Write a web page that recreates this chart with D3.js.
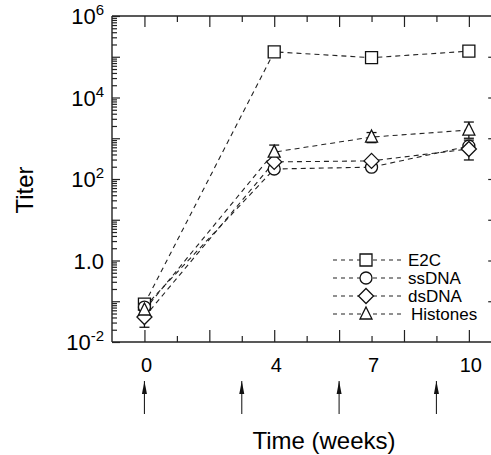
<!DOCTYPE html>
<html>
<head>
<meta charset="utf-8">
<script src="https://cdn.jsdelivr.net/npm/d3@7"></script>
<style>
  body { margin: 0; background: #fff; }
  svg { display: block; font-family: "Liberation Sans", Arial, sans-serif; }
  .tick line { stroke: #222; stroke-width: 1.2; }
</style>
</head>
<body>
<div id="chart"></div>
<script>
// data
var weeks = [0, 4, 7, 10];
var seriesNames = ["E2C", "ssDNA", "dsDNA", "Histones"];
var e2c = [0.085, 132000, 95000, 137000];
var ssdna = [0.072, 176, 195, 640];
var dsdna = [0.041, 263, 278, 546];
var histones = [0.061, 457, 1070, 1590];
// error bars [low, high], null where none is drawn
var ssdnaErr = [null, null, null, null];
var dsdnaErr = [[0.023, 0.07], null, null, [293, 900]];
var histonesErr = [null, [300, 680], [780, 1380], [1000, 2500]];
var e2cErr = [null, null, null, null];
var immunizations = [0, 3, 6, 9];
var xLabels = [0, 4, 7, 10];
var yLabels = [1e-2, 1, 1e2, 1e4, 1e6];

var svgWidth = 491, svgHeight = 455;
var margin = {top: 16, left: 112, bottom: 113};
var plotRight = 493.2;

var svg = d3.select("#chart").append("svg")
  .attr("width", svgWidth)
  .attr("height", svgHeight);

var x = d3.scaleLinear().domain([-1, 10.75]).range([margin.left, plotRight]);
var y = d3.scaleLog().domain([1e-2, 1e6]).range([svgHeight - margin.bottom, margin.top]);

var bottomY = y(1e-2), topY = y(1e6);

// frame lines
svg.append("line").attr("x1", margin.left).attr("x2", plotRight)
  .attr("y1", bottomY).attr("y2", bottomY).attr("stroke", "#222").attr("stroke-width", 1.4);
svg.append("line").attr("x1", margin.left).attr("x2", plotRight)
  .attr("y1", topY).attr("y2", topY).attr("stroke", "#222").attr("stroke-width", 1.4);
svg.append("line").attr("x1", margin.left).attr("x2", margin.left)
  .attr("y1", topY).attr("y2", bottomY).attr("stroke", "#222").attr("stroke-width", 1.4);

// x ticks, even weeks long, odd short
var evenWeeks = d3.range(0, 11, 2), oddWeeks = d3.range(1, 11, 2);
[[evenWeeks, 12, 11], [oddWeeks, 6, 6]].forEach(function(set) {
  svg.append("g").attr("transform", "translate(0," + bottomY + ")")
    .call(d3.axisBottom(x).tickValues(set[0]).tickSize(-set[1]).tickFormat(""))
    .call(g => g.select(".domain").remove());
  svg.append("g").attr("transform", "translate(0," + topY + ")")
    .call(d3.axisTop(x).tickValues(set[0]).tickSize(-set[2]).tickFormat(""))
    .call(g => g.select(".domain").remove());
});

// x labels
svg.append("g").selectAll("text").data(xLabels).enter().append("text")
  .attr("x", d => x(d) + 2)
  .attr("y", 372)
  .attr("text-anchor", "middle")
  .style("font-size", "20px")
  .text(d => d);

// y ticks, decades and minor
var decades = d3.range(-2, 7).map(p => Math.pow(10, p));
var minors = [];
d3.range(-2, 6).forEach(function(p) {
  d3.range(2, 10).forEach(function(k) { minors.push(k * Math.pow(10, p)); });
});
svg.append("g").attr("transform", "translate(" + margin.left + ",0)")
  .call(d3.axisLeft(y).tickValues(decades).tickSize(-8).tickFormat(""))
  .call(g => g.select(".domain").remove());
svg.append("g").attr("transform", "translate(" + margin.left + ",0)")
  .call(d3.axisLeft(y).tickValues(minors).tickSize(-5).tickFormat(""))
  .call(g => g.selectAll(".tick line").attr("stroke-width", 1))
  .call(g => g.select(".domain").remove());
// right side ticks (decades only)
svg.append("g").attr("transform", "translate(" + plotRight + ",0)")
  .call(d3.axisRight(y).tickValues(decades.slice(1, -1)).tickSize(-5).tickFormat(""))
  .call(g => g.select(".domain").remove());

// y labels with superscripts
var yl = svg.append("g").selectAll("text").data(yLabels).enter().append("text")
  .attr("x", 104)
  .attr("y", d => y(d) + 8)
  .attr("text-anchor", "end")
  .style("font-size", "22px");
yl.each(function(d) {
  var t = d3.select(this);
  if (d === 1) { t.text("1.0"); return; }
  t.append("tspan").text("10");
  t.append("tspan").attr("dy", -9).style("font-size", "15px").text(Math.round(Math.log10(d)));
});

// axis titles
svg.append("text")
  .attr("transform", "translate(33,190) rotate(-90)")
  .attr("text-anchor", "middle")
  .style("font-size", "24px")
  .text("Titer");
svg.append("text")
  .attr("x", 324).attr("y", 449)
  .attr("text-anchor", "middle")
  .style("font-size", "24px")
  .text("Time (weeks)");

// immunization arrows
svg.append("defs").append("marker")
  .attr("id", "arrowhead")
  .attr("viewBox", "0 0 6 13")
  .attr("refX", 3).attr("refY", 0)
  .attr("markerWidth", 6).attr("markerHeight", 13)
  .attr("markerUnits", "userSpaceOnUse")
  .attr("orient", "0")
  .append("path").attr("d", "M0.5,13 L3,0 L5.5,13 Z").attr("fill", "#111");
svg.append("g").selectAll("line").data(immunizations).enter().append("line")
  .attr("x1", d => x(d)).attr("x2", d => x(d))
  .attr("y1", 414).attr("y2", 381)
  .attr("stroke", "#222").attr("stroke-width", 1.1)
  .attr("marker-end", "url(#arrowhead)");

// marker shapes, hollow
var shapes = {
  "E2C": "M-6,-6H6V6H-6Z",
  "ssDNA": "M6,0A6,6 0 1,1 -6,0A6,6 0 1,1 6,0Z",
  "dsDNA": "M0,-7.5L7.5,0L0,7.5L-7.5,0Z",
  "Histones": "M0,-7L6,5H-6Z"
};

function drawMarker(g, name, cx, cy) {
  g.append("path")
    .attr("d", shapes[name])
    .attr("transform", "translate(" + cx + "," + cy + ")")
    .attr("fill", "#fff").attr("stroke", "#111").attr("stroke-width", 1.3);
}

var series = [
  {name: "E2C", values: e2c, err: e2cErr},
  {name: "ssDNA", values: ssdna, err: ssdnaErr},
  {name: "dsDNA", values: dsdna, err: dsdnaErr},
  {name: "Histones", values: histones, err: histonesErr}
];

var line = d3.line().x(d => x(d[0])).y(d => y(d[1]));
var plot = svg.append("g");

// dashed lines first
series.forEach(function(s) {
  plot.append("path")
    .datum(weeks.map((w, i) => [w, s.values[i]]))
    .attr("d", line)
    .attr("fill", "none")
    .attr("stroke", "#222").attr("stroke-width", 1.1)
    .attr("stroke-dasharray", "5,4");
});

// error bars
series.forEach(function(s) {
  s.err.forEach(function(e, i) {
    if (!e) return;
    var cx = x(weeks[i]);
    var g = plot.append("g").attr("stroke", "#111").attr("stroke-width", 1.3);
    g.append("line").attr("x1", cx).attr("x2", cx).attr("y1", y(e[0])).attr("y2", y(e[1]));
    g.append("line").attr("x1", cx - 5).attr("x2", cx + 5).attr("y1", y(e[0])).attr("y2", y(e[0]));
    g.append("line").attr("x1", cx - 5).attr("x2", cx + 5).attr("y1", y(e[1])).attr("y2", y(e[1]));
  });
});

// markers, back to front
series.forEach(function(s) {
  s.values.forEach(function(v, i) {
    drawMarker(plot, s.name, x(weeks[i]), y(v));
  });
});

// legend
var legend = svg.append("g");
var legendY = [260, 278, 296, 314];
seriesNames.forEach(function(name, i) {
  var ly = legendY[i];
  legend.append("line")
    .attr("x1", 333).attr("x2", 403).attr("y1", ly).attr("y2", ly)
    .attr("stroke", "#222").attr("stroke-width", 1.1)
    .attr("stroke-dasharray", "4,4");
  drawMarker(legend, name, 366, ly);
  legend.append("text")
    .attr("x", name === "Histones" ? 411 : 408)
    .attr("y", ly + 6)
    .style("font-size", "17px")
    .text(name);
});
</script>
</body>
</html>
